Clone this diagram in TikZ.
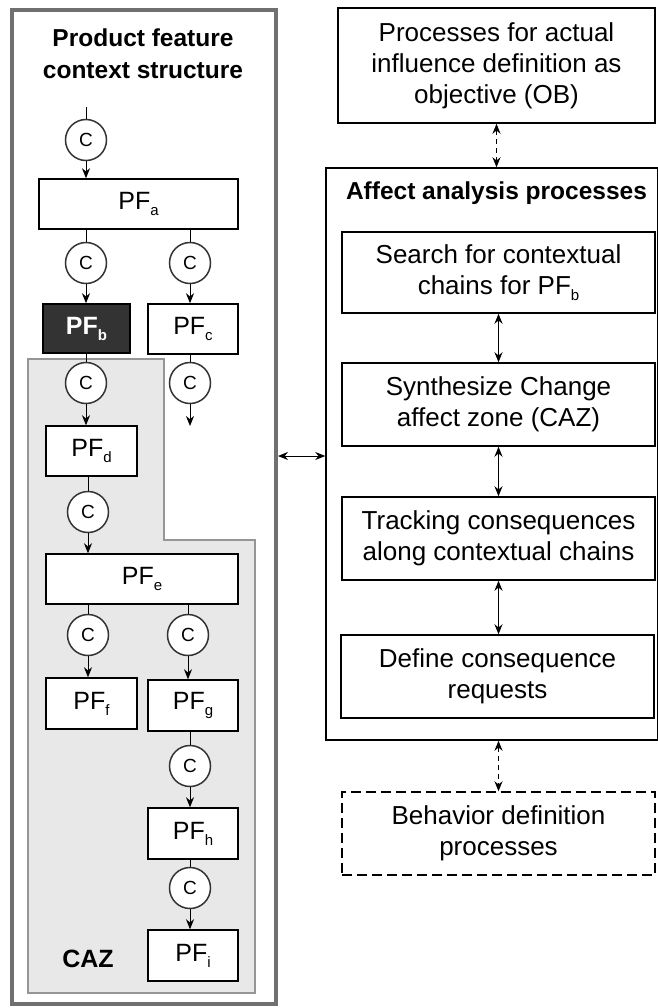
\documentclass[tikz,border=0pt]{standalone}
\usepackage{fontspec}
\setmainfont{Liberation Sans}
\usetikzlibrary{arrows.meta,calc}
\definecolor{outergray}{RGB}{112,112,112}
\definecolor{cazfill}{RGB}{232,232,232}
\definecolor{cazline}{RGB}{150,150,150}
\definecolor{pfdark}{RGB}{51,51,51}
\newcommand{\pfsub}[1]{PF\raisebox{-6pt}{\fontsize{15}{15}\selectfont #1}}
\begin{document}
\begin{tikzpicture}[x=1pt,y=-1pt,
  every node/.style={inner sep=0pt},
  pfbox/.style={draw=black, line width=1.5pt, fill=white, minimum height=50pt, font=\fontsize{25}{30}\selectfont},
  cnode/.style={circle, draw=black!80, line width=1.5pt, fill=white, minimum size=41pt, font=\fontsize{19}{19}\selectfont},
  procbox/.style={draw=black, line width=1.5pt, fill=white, align=center, minimum width=313pt, minimum height=82pt, font=\fontsize{26}{31}\selectfont},
  conn/.style={draw=black, line width=1pt},
  arr/.style={conn, -{Stealth[length=10pt,width=8pt]}},
  dbl/.style={conn, {Stealth[length=10pt,width=8pt]}-{Stealth[length=10pt,width=8pt]}},
  dashdbl/.style={dbl, dash pattern=on 5pt off 4pt},
  titlefont/.style={font=\fontsize{24.5}{32}\selectfont\bfseries}
]
\useasboundingbox (0,0) rectangle (657,1008);
\fill[white] (0,0) rectangle (657,1008);

% ---------- left panel ----------
\node[draw=outergray, line width=4pt, minimum width=264pt, minimum height=994pt] (outer) at (144,507) {};
\filldraw[fill=cazfill, draw=cazline, line width=1.5pt]
  (28,359) -- (164,359) -- (164,540) -- (255,540) -- (255,993) -- (28,993) -- cycle;
\node[titlefont, align=center] (title) at (143,54) {Product feature\\context structure};
\node[font=\fontsize{25}{30}\selectfont\bfseries, anchor=base] (caz) at (88,967) {CAZ};

\coordinate (top) at (86,107);
\node[cnode] (c0) at (86,140) {C};
\node[pfbox, minimum width=199pt] (pfa) at (138.5,204) {\pfsub{a}};
\node[cnode] (c1) at (86,263) {C};
\node[cnode] (c2) at (190,263) {C};
\node[pfbox, fill=pfdark, text=white, font=\fontsize{25}{30}\selectfont\bfseries, minimum width=87pt, minimum height=49pt] (pfb) at (86.5,328.5) {\pfsub{\bfseries b}};
\node[pfbox, minimum width=90pt] (pfc) at (193,329) {\pfsub{c}};
\node[cnode] (c3) at (86,383) {C};
\node[cnode] (c4) at (190,383) {C};
\coordinate (cend) at (190,426);
\node[pfbox, minimum width=91pt] (pfd) at (91.5,451) {\pfsub{d}};
\node[cnode] (c5) at (88,512) {C};
\node[pfbox, minimum width=192pt] (pfe) at (142,579) {\pfsub{e}};
\node[cnode] (c6) at (88,635) {C};
\node[cnode] (c7) at (188,635) {C};
\node[pfbox, minimum width=91pt, minimum height=51pt] (pff) at (91.5,703.5) {\pfsub{f}};
\node[pfbox, minimum width=90pt, minimum height=51pt] (pfg) at (193,705.5) {\pfsub{g}};
\node[cnode] (c8) at (190,766) {C};
\node[pfbox, minimum width=90pt, minimum height=51pt] (pfh) at (193,833.5) {\pfsub{h}};
\node[cnode] (c9) at (190,888) {C};
\node[pfbox, minimum width=90pt, minimum height=51pt] (pfi) at (193,955.5) {\pfsub{i}};

\draw[conn] (top) -- (c0.north);
\draw[arr] (c0.south) -- (c0.south |- pfa.north);
\draw[conn] (pfa.south -| c1) -- (c1.north);
\draw[conn] (pfa.south -| c2) -- (c2.north);
\draw[arr] (c1.south) -- (c1.south |- pfb.north);
\draw[arr] (c2.south) -- (c2.south |- pfc.north);
\draw[conn] (pfb.south -| c3) -- (c3.north);
\draw[conn] (pfc.south -| c4) -- (c4.north);
\draw[arr] (c3.south) -- (c3.south |- pfd.north);
\draw[arr] (c4.south) -- (cend);
\draw[conn] (pfd.south -| c5) -- (c5.north);
\draw[arr] (c5.south) -- (c5.south |- pfe.north);
\draw[conn] (pfe.south -| c6) -- (c6.north);
\draw[conn] (pfe.south -| c7) -- (c7.north);
\draw[arr] (c6.south) -- (c6.south |- pff.north);
\draw[arr] (c7.south) -- (c7.south |- pfg.north);
\draw[conn] (pfg.south -| c8) -- (c8.north);
\draw[arr] (c8.south) -- (c8.south |- pfh.north);
\draw[conn] (pfh.south -| c9) -- (c9.north);
\draw[arr] (c9.south) -- (c9.south |- pfi.north);

% ---------- right panel ----------
\node[procbox, minimum width=317pt, minimum height=115pt] (ob) at (496.5,65.5) {Processes for actual\\influence definition as\\objective (OB)};
\node[draw=black, line width=1.5pt, minimum width=332pt, minimum height=572pt] (affect) at (492,454) {};
\node[titlefont, anchor=base] (atitle) at (496.5,200) {Affect analysis processes};
\node[procbox, minimum height=81pt] (search) at (498.5,272.5) {Search for contextual\\chains for \pfsub{b}};
\node[procbox, minimum height=83pt] (synth) at (498.5,404.5) {Synthesize Change\\affect zone (CAZ)};
\node[procbox, minimum height=83pt] (track) at (498.5,538.5) {Tracking consequences\\along contextual chains};
\node[procbox, minimum height=83pt] (define) at (497.5,676.5) {Define consequence\\requests};
\node[procbox, dash pattern=on 10pt off 5pt, minimum height=83pt] (behav) at (498.5,833.5) {Behavior definition\\processes};

\draw[dashdbl] (ob.south) -- (ob.south |- affect.north);
\draw[dbl] (search.south) -- (synth.north);
\draw[dbl] (synth.south) -- (track.north);
\draw[dbl] (track.south) -- (track.south |- define.north);
\draw[dashdbl] (behav.north |- affect.south) -- (behav.north);

\coordinate (lr) at (300,456);
\draw[dbl] (outer.east |- lr) -- (affect.west |- lr);
\end{tikzpicture}
\end{document}
